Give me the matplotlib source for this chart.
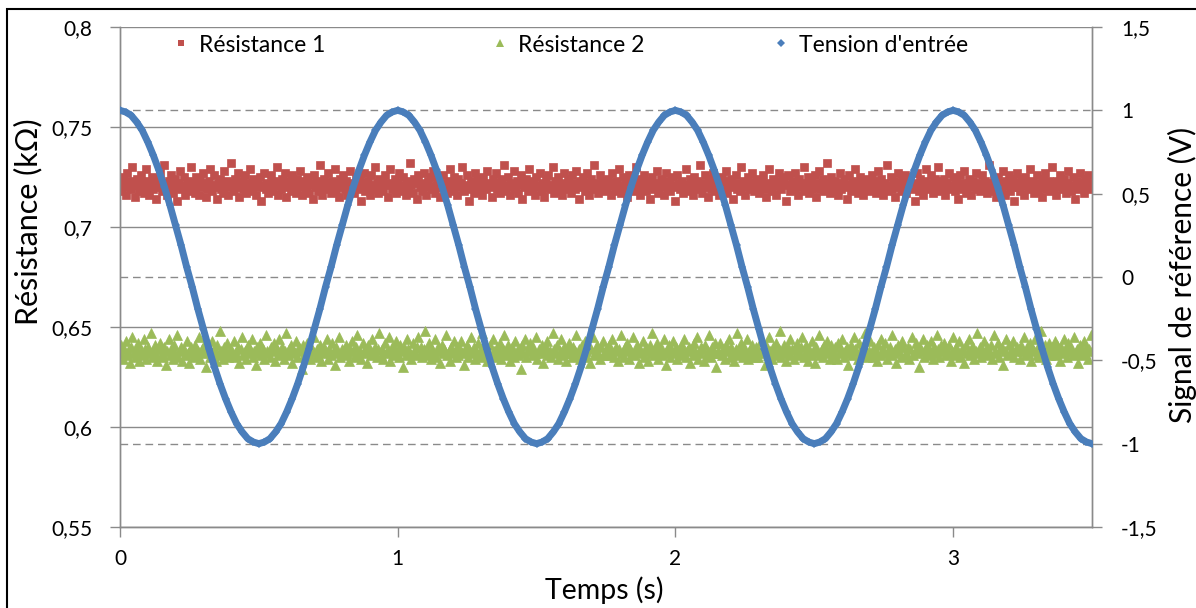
import numpy as np
import matplotlib.pyplot as plt
from matplotlib.lines import Line2D
from matplotlib.patches import Rectangle
from matplotlib.ticker import FuncFormatter

plt.rcParams['font.family'] = ['Lato', 'DejaVu Sans']

# Résistance 1 (ohms), points régulièrement espacés de 0 à 3,5 s
res1_ohm = [
    721, 718, 725, 722, 716, 727, 720, 723, 719, 730, 721, 715, 724, 722, 718, 726, 721, 717, 723, 729, 720, 716, 722, 725, 719, 721, 714,
    724, 720, 727, 718, 722, 731, 719, 716, 723, 721, 726, 717, 720, 724, 713, 722, 728, 719, 721, 725, 716, 720, 723, 718, 730, 722, 719,
    717, 725, 721, 716, 724, 720, 727, 722, 715, 719, 723, 729, 718, 721, 726, 720, 714, 722, 724, 719, 717, 728, 721, 723, 716, 720, 732,
    722, 718, 724, 720, 727, 715, 721, 723, 719, 726, 717, 722, 720, 729, 718, 724, 721, 716, 723, 720, 725, 713, 721, 727, 719, 722, 717,
    720, 726, 718, 723, 721, 730, 716, 722, 719, 724, 720, 727, 715, 721, 723, 718, 726, 722, 719, 717, 724, 721, 728, 716, 720, 723, 719,
    725, 717, 721, 722, 714, 726, 720, 723, 718, 731, 721, 716, 724, 719, 722, 727, 720, 717, 723, 721, 729, 718, 722, 715, 724, 720, 726,
    719, 723, 716, 721, 728, 720, 722, 717, 725, 721, 719, 724, 713, 722, 727, 718, 720, 723, 716, 726, 721, 719, 730, 722, 717, 724, 720,
    723, 718, 726, 721, 715, 722, 729, 719, 720, 724, 717, 722, 727, 720, 718, 725, 721, 716, 723, 719, 732, 721, 717, 724, 722, 714, 726,
    720, 722, 718, 727, 721, 716, 723, 720, 725, 719, 728, 717, 721, 724, 720, 715, 722, 726, 719, 721, 717, 723, 729, 720, 718, 725, 721,
    716, 724, 720, 722, 730, 718, 721, 726, 719, 713, 723, 721, 717, 727, 720, 724, 718, 722, 716, 725, 721, 719, 728, 722, 720, 715, 724,
    721, 727, 719, 722, 717, 724, 720, 731, 718, 721, 725, 716, 722, 720, 728, 719, 723, 717, 721, 726, 714, 722, 720, 724, 718, 729, 721,
    719, 723, 716, 725, 721, 720, 727, 718, 722, 715, 724, 720, 726, 719, 721, 730, 717, 723, 720, 725, 718, 722, 716, 727, 721, 719, 724,
    720, 717, 726, 722, 719, 728, 721, 714, 723, 720, 725, 718, 722, 727, 716, 721, 724, 719, 731, 720, 722, 717, 726, 721, 723, 718, 720,
    719, 724, 721, 716, 727, 722, 718, 723, 720, 729, 717, 721, 725, 719, 722, 715, 726, 720, 723, 718, 721, 730, 719, 724, 716, 722, 720,
    726, 718, 721, 723, 714, 720, 725, 719, 722, 728, 717, 721, 724, 720, 716, 723, 727, 719, 722, 718, 725, 721, 713, 720, 726, 722, 719,
    723, 717, 720, 729, 721, 718, 724, 722, 716, 725, 720, 723, 719, 731, 721, 717, 722, 726, 720, 715, 724, 719, 721, 727, 718, 723, 720,
    716, 722, 725, 719, 721, 728, 717, 723, 720, 724, 714, 721, 726, 719, 722, 718, 730, 720, 723, 716, 721, 725, 719, 722, 727, 718, 721,
    724, 720, 717, 723, 721, 726, 719, 715, 722, 729, 720, 718, 724, 721, 716, 723, 727, 720, 719, 725, 722, 713, 721, 726, 718, 720, 723,
    719, 727, 721, 716, 724, 720, 722, 730, 718, 721, 725, 717, 723, 719, 720, 726, 715, 722, 728, 719, 721, 724, 718, 720, 732, 722, 717,
    725, 720, 718, 723, 721, 716, 727, 719, 722, 724, 720, 714, 721, 726, 718, 723, 719, 729, 721, 717, 722, 725, 720, 716, 724, 721, 719,
    722, 718, 726, 720, 723, 717, 721, 728, 719, 724, 716, 722, 720, 731, 718, 721, 725, 719, 723, 715, 720, 727, 722, 718, 724, 721, 726,
    717, 723, 720, 725, 719, 722, 713, 721, 727, 718, 724, 720, 716, 723, 729, 721, 719, 722, 726, 717, 720, 724, 718, 730, 721, 723, 719,
    724, 716, 722, 720, 727, 719, 721, 725, 718, 723, 714, 720, 726, 722, 719, 728, 717, 721, 724, 720, 716, 723, 721, 727, 719, 722, 718,
    721, 726, 719, 723, 717, 720, 731, 722, 718, 724, 721, 715, 725, 720, 722, 719, 728, 716, 723, 721, 726, 718, 720, 724, 713, 722, 727,
    720, 718, 724, 721, 716, 725, 722, 719, 729, 720, 723, 717, 721, 726, 718, 722, 720, 715, 724, 727, 719, 721, 723, 718, 730, 720, 722,
    716, 723, 720, 726, 721, 719, 724, 717, 722, 728, 720, 718, 725, 721, 714, 723, 719, 727, 720, 722, 717, 724, 721, 726, 719, 722, 720,
]

# Résistance 2 (ohms)
res2_ohm = [
    637, 641, 634, 639, 643, 636, 638, 632, 640, 645, 637, 635, 639, 642, 633, 638, 636, 644, 639, 634, 640, 637, 647, 635, 638, 641, 636,
    633, 639, 642, 637, 635, 640, 631, 638, 644, 636, 639, 634, 641, 637, 646, 635, 638, 640, 633, 639, 636, 643, 637, 632, 640, 638, 635,
    641, 636, 638, 645, 634, 639, 637, 642, 630, 638, 640, 635, 643, 637, 639, 633, 641, 636, 648, 638, 634, 640, 637, 642, 635, 639, 636,
    638, 643, 635, 637, 640, 632, 639, 645, 636, 638, 634, 641, 637, 639, 644, 635, 638, 631, 640, 637, 642, 636, 639, 634, 646, 638, 637,
    635, 640, 638, 642, 633, 639, 636, 644, 637, 640, 634, 638, 647, 636, 639, 641, 632, 638, 637, 643, 635, 640, 638, 629, 641, 636, 639,
    642, 637, 634, 640, 638, 645, 635, 639, 636, 641, 633, 638, 640, 637, 644, 634, 639, 636, 642, 638, 631, 640, 637, 645, 635, 639, 638,
    636, 641, 637, 633, 639, 643, 638, 635, 640, 646, 636, 638, 634, 642, 637, 639, 632, 641, 638, 636, 644, 637, 640, 635, 639, 647, 636,
    639, 634, 642, 637, 638, 645, 633, 640, 636, 639, 643, 637, 635, 641, 638, 630, 640, 636, 644, 639, 637, 634, 642, 638, 636, 640, 645,
    637, 640, 635, 639, 648, 636, 638, 642, 634, 639, 637, 644, 635, 640, 638, 632, 641, 637, 639, 646, 636, 638, 633, 640, 637, 643, 635,
    640, 636, 639, 643, 637, 631, 638, 641, 635, 639, 645, 637, 640, 634, 638, 642, 636, 639, 647, 635, 638, 640, 633, 637, 641, 636, 644,
    638, 635, 640, 637, 642, 634, 639, 646, 636, 638, 641, 633, 637, 640, 635, 643, 638, 636, 639, 629, 641, 637, 644, 635, 639, 638, 642,
    636, 640, 637, 645, 634, 639, 638, 641, 632, 637, 640, 643, 636, 638, 635, 647, 639, 637, 641, 634, 638, 644, 636, 640, 637, 633, 639,
    642, 637, 635, 640, 638, 646, 636, 639, 634, 641, 637, 643, 638, 635, 640, 632, 639, 645, 636, 638, 641, 637, 634, 640, 643, 636, 638,
    639, 636, 641, 637, 644, 635, 638, 640, 633, 639, 646, 637, 635, 640, 638, 642, 634, 639, 637, 645, 636, 638, 641, 632, 639, 637, 643,
    635, 640, 638, 633, 641, 637, 647, 636, 639, 642, 634, 638, 640, 636, 644, 637, 631, 639, 641, 635, 638, 643, 637, 640, 634, 639, 636,
    641, 637, 644, 635, 638, 640, 632, 639, 636, 642, 638, 645, 634, 637, 640, 639, 633, 641, 636, 638, 646, 635, 640, 637, 642, 630, 638,
    637, 642, 636, 639, 634, 641, 638, 644, 635, 640, 637, 633, 639, 647, 636, 638, 642, 635, 640, 637, 644, 634, 639, 636, 641, 638, 635,
    640, 635, 638, 643, 637, 639, 631, 641, 636, 645, 638, 634, 640, 637, 642, 636, 639, 648, 635, 638, 641, 633, 637, 640, 644, 636, 639,
    634, 639, 642, 636, 638, 640, 645, 635, 637, 641, 633, 639, 636, 643, 638, 632, 640, 637, 646, 636, 639, 635, 641, 638, 643, 637, 634,
    641, 638, 636, 640, 634, 642, 637, 639, 644, 635, 638, 640, 631, 637, 641, 636, 645, 639, 638, 634, 642, 637, 640, 636, 647, 638, 635,
    638, 643, 637, 635, 640, 638, 633, 641, 636, 644, 639, 637, 642, 634, 638, 640, 636, 646, 637, 639, 632, 641, 638, 635, 643, 640, 636,
    637, 640, 634, 639, 645, 636, 638, 642, 637, 630, 640, 638, 644, 635, 639, 641, 636, 638, 643, 634, 640, 637, 646, 639, 635, 641, 638,
    642, 636, 639, 637, 641, 633, 638, 645, 636, 640, 637, 643, 635, 639, 638, 632, 641, 637, 644, 636, 639, 640, 634, 638, 647, 637, 640,
    635, 639, 643, 637, 640, 636, 638, 641, 634, 646, 638, 637, 642, 635, 639, 640, 631, 638, 644, 636, 641, 637, 639, 643, 635, 638, 640,
    639, 634, 641, 638, 645, 636, 640, 637, 642, 633, 639, 638, 644, 636, 640, 635, 648, 637, 639, 641, 634, 638, 642, 636, 640, 637, 643,
    636, 641, 638, 633, 640, 637, 644, 639, 635, 642, 638, 640, 636, 645, 637, 639, 632, 641, 638, 636, 643, 637, 640, 634, 639, 646, 638,
]

# Tension d'entrée (V), un point toutes les 0,02 s
tension_v = [
    1.00, 0.99, 0.97, 0.93, 0.88, 0.81, 0.73, 0.64, 0.54, 0.43, 0.31, 0.19, 0.06, -0.06, -0.19, -0.31, -0.43,
    -0.54, -0.64, -0.73, -0.81, -0.88, -0.93, -0.97, -0.99, -1.00, -0.99, -0.97, -0.93, -0.88, -0.81, -0.73,
    -0.64, -0.54, -0.43, -0.31, -0.19, -0.06, 0.06, 0.19, 0.31, 0.43, 0.54, 0.64, 0.73, 0.81, 0.88, 0.93, 0.97, 0.99,
    1.00, 0.99, 0.97, 0.93, 0.88, 0.81, 0.73, 0.64, 0.54, 0.43, 0.31, 0.19, 0.06, -0.06, -0.19, -0.31, -0.43,
    -0.54, -0.64, -0.73, -0.81, -0.88, -0.93, -0.97, -0.99, -1.00, -0.99, -0.97, -0.93, -0.88, -0.81, -0.73,
    -0.64, -0.54, -0.43, -0.31, -0.19, -0.06, 0.06, 0.19, 0.31, 0.43, 0.54, 0.64, 0.73, 0.81, 0.88, 0.93, 0.97, 0.99,
    1.00, 0.99, 0.97, 0.93, 0.88, 0.81, 0.73, 0.64, 0.54, 0.43, 0.31, 0.19, 0.06, -0.06, -0.19, -0.31, -0.43,
    -0.54, -0.64, -0.73, -0.81, -0.88, -0.93, -0.97, -0.99, -1.00, -0.99, -0.97, -0.93, -0.88, -0.81, -0.73,
    -0.64, -0.54, -0.43, -0.31, -0.19, -0.06, 0.06, 0.19, 0.31, 0.43, 0.54, 0.64, 0.73, 0.81, 0.88, 0.93, 0.97, 0.99,
    1.00, 0.99, 0.97, 0.93, 0.88, 0.81, 0.73, 0.64, 0.54, 0.43, 0.31, 0.19, 0.06, -0.06, -0.19, -0.31, -0.43,
    -0.54, -0.64, -0.73, -0.81, -0.88, -0.93, -0.97, -0.99, -1.00,
]

labels = ['Résistance 1', 'Résistance 2', "Tension d'entrée"]
x_ticks = [0, 1, 2, 3]
left_ticks = [0.55, 0.6, 0.65, 0.7, 0.75, 0.8]
right_ticks = [-1.5, -1, -0.5, 0, 0.5, 1, 1.5]
ref_levels = [-1, 0, 1]

RED = '#C0504D'
GREEN = '#9BBB59'
BLUE = '#4A7EBB'
GRID = '#8A8A8A'

W, H = 1196, 608
fig = plt.figure(figsize=(W / 100, H / 100), dpi=100)
ax = fig.add_axes([120 / W, 1 - 527 / H, 972 / W, 500 / H])
ax2 = ax.twinx()

t_res = np.linspace(0, 3.5, len(res1_ohm))
t_ref = np.linspace(0, 3.5, len(tension_v))

ax.plot(t_res, np.array(res1_ohm) / 1000, ls='none', marker='s', ms=6.0,
        color=RED, mec=RED, mew=0.5, zorder=3)
ax.plot(t_res, np.array(res2_ohm) / 1000, ls='none', marker='^', ms=7.0,
        color=GREEN, mec=GREEN, mew=0.5, zorder=3)

for v in ref_levels:
    ax2.axhline(v, color=GRID, lw=1, ls=(0, (5.5, 3.5)), zorder=1)
ax2.plot(t_ref, tension_v, color=BLUE, lw=5, marker='D', ms=4, mew=0, zorder=3)

comma = FuncFormatter(lambda v, p: f'{v:g}'.replace('.', ','))

ax.set_xlim(0, 3.5)
ax.set_ylim(0.55, 0.8)
ax2.set_ylim(-1.5, 1.5)
ax.set_xticks(x_ticks)
ax.set_yticks(left_ticks)
ax2.set_yticks(right_ticks)
ax.xaxis.set_major_formatter(comma)
ax.yaxis.set_major_formatter(comma)
ax2.yaxis.set_major_formatter(comma)

ax.yaxis.grid(True, color=GRID, lw=1)
ax.set_axisbelow(True)

for a in (ax, ax2):
    a.spines['top'].set_visible(False)
    for s in ('left', 'right', 'bottom'):
        a.spines[s].set_color(GRID)
        a.spines[s].set_linewidth(1)
ax.tick_params(axis='both', direction='out', length=7, width=1, color=GRID,
               labelsize=15, labelcolor='black', pad=13)
ax.tick_params(axis='x', pad=9)
ax2.tick_params(axis='y', direction='out', length=7, width=1, color=GRID,
                labelsize=15, labelcolor='black', pad=14)

fig.text(28 / W, 1 - 222 / H, 'Résistance (kΩ)', rotation=90, ha='center', va='center', fontsize=22)
fig.text(1182 / W, 1 - 275 / H, 'Signal de référence (V)', rotation=90, ha='center', va='center', fontsize=21.5)
fig.text(604 / W, 1 - 590 / H, 'Temps (s)', ha='center', va='center', fontsize=20.5)

handles = [
    Line2D([], [], ls='none', marker='s', ms=5, color=RED, mew=0),
    Line2D([], [], ls='none', marker='^', ms=5.5, color=GREEN, mew=0),
    Line2D([], [], ls='none', marker='D', ms=4, color=BLUE, mew=0),
]
marker_px = [181, 500, 781]
for i, (h, lab) in enumerate(zip(handles, labels)):
    leg = ax2.legend([h], [lab], loc='center left',
                     bbox_to_anchor=((marker_px[i] - 7 - 120) / 972, 0.964),
                     frameon=False, fontsize=16.5, handlelength=0.6, handletextpad=0.5,
                     borderpad=0, borderaxespad=0)
    if i < len(labels) - 1:
        ax2.add_artist(leg)

fig.patches.append(Rectangle((7 / W, -0.5), 2, 1.5 - 9 / H, transform=fig.transFigure,
                             fill=False, ec='black', lw=1.5))

fig.savefig('out.png', dpi=100)
